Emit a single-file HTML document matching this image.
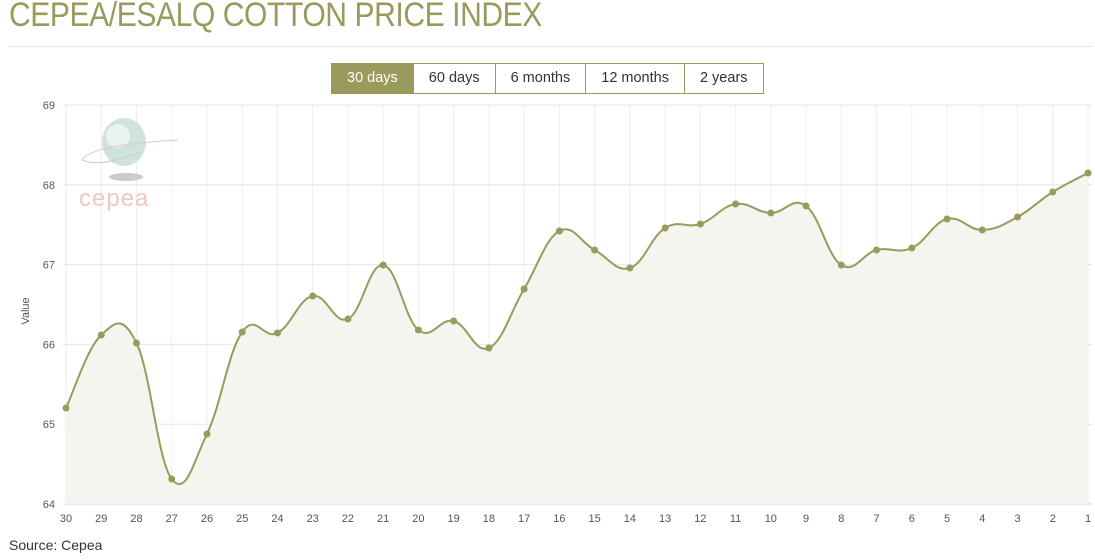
<!DOCTYPE html>
<html><head><meta charset="utf-8"><style>
body{margin:0;background:#fff;width:1095px;height:560px;overflow:hidden;font-family:"Liberation Sans",sans-serif}
.t{position:absolute;left:9px;top:-4px;font-size:34px;color:#9a9a5c;white-space:nowrap;transform:scaleX(0.885);transform-origin:0 0;letter-spacing:-0.5px}
.hr{position:absolute;left:9px;top:46px;width:1084px;height:1px;background:#e8e8e8}
.btns{position:absolute;left:331px;top:63px;height:29px;display:flex;border:1px solid #9a9a5c}
.btns div{padding:0 15px;line-height:29px;font-size:14.5px;color:#333;border-left:1px solid #9a9a5c}
.btns div:first-child{border-left:none;background:#9a9a5c;color:#fff}
</style></head><body>
<div class="t">CEPEA/ESALQ COTTON PRICE INDEX</div>
<div class="hr"></div>
<div class="btns"><div>30 days</div><div>60 days</div><div>6 months</div><div>12 months</div><div>2 years</div></div>
<svg id="s" width="1095" height="560" style="position:absolute;left:0;top:0" font-family="Liberation Sans, sans-serif"></svg>
<script>
var ys=[408,335,343,479,434,332,333,296,319,265,330,321,348,289,231,250,268,228,224,204,213,206,265,250,248,219,230,217,192,173];
var x0=66,dx=(1088-66)/29,h='';
for(var i=0;i<30;i++){var x=x0+i*dx;h+='<line x1="'+x+'" y1="105" x2="'+x+'" y2="504" stroke="#eee"/>';}
for(var v=0;v<=5;v++){var y=105+v*79.8;h+='<line x1="63" y1="'+y+'" x2="1092" y2="'+y+'" stroke="#e6e6e6"/><text x="55" y="'+(y+4)+'" font-size="11" fill="#555" text-anchor="end">'+(69-v)+'</text>';}
h+='<line x1="63" y1="504" x2="1092" y2="504" stroke="#ccd6eb"/>';
h+='<text x="29" y="311" font-size="11" fill="#555" text-anchor="middle" transform="rotate(-90 29 311)">Value</text>';
h+='<ellipse cx="124" cy="142" rx="22" ry="24" fill="#cfe3dd"/><ellipse cx="118" cy="136" rx="12" ry="12" fill="#e8f2ef"/><ellipse cx="126" cy="177" rx="17" ry="4" fill="#ccc"/><path d="M82 160 Q90 145 178 140" stroke="#d8c8cc" fill="none"/><path d="M82 160 Q100 168 140 152" stroke="#ccc" fill="none"/><text x="79" y="206" font-size="24" fill="#f0c8c0" letter-spacing="1">cepea</text>';
var P=ys.map(function(y,i){return [x0+i*dx,y]});
var d='M'+P[0][0]+' '+P[0][1],k=5;
for(var i=0;i<29;i++){var p0=P[Math.max(i-1,0)],p1=P[i],p2=P[i+1],p3=P[Math.min(i+2,29)];
var c1=[p1[0]+(p2[0]-p0[0])/k,p1[1]+(p2[1]-p0[1])/k];
var c2=[p2[0]-(p3[0]-p1[0])/k,p2[1]-(p3[1]-p1[1])/k];
d+=' C'+c1[0]+' '+c1[1]+' '+c2[0]+' '+c2[1]+' '+p2[0]+' '+p2[1];}
h+='<path d="'+d+' L1088 504 L66 504Z" fill="#f5f5f0"/>';
h+='<path d="'+d+'" fill="none" stroke="#9a9a5c" stroke-width="2"/>';
P.forEach(function(p,i){h+='<circle cx="'+p[0]+'" cy="'+p[1]+'" r="3.5" fill="#9a9a5c"/><text x="'+p[0]+'" y="522" font-size="11" fill="#555" text-anchor="middle">'+(30-i)+'</text>';});
h+='<text x="9" y="550" font-size="14" fill="#333">Source: Cepea</text>';
document.getElementById('s').innerHTML=h;
</script>
</body></html>
